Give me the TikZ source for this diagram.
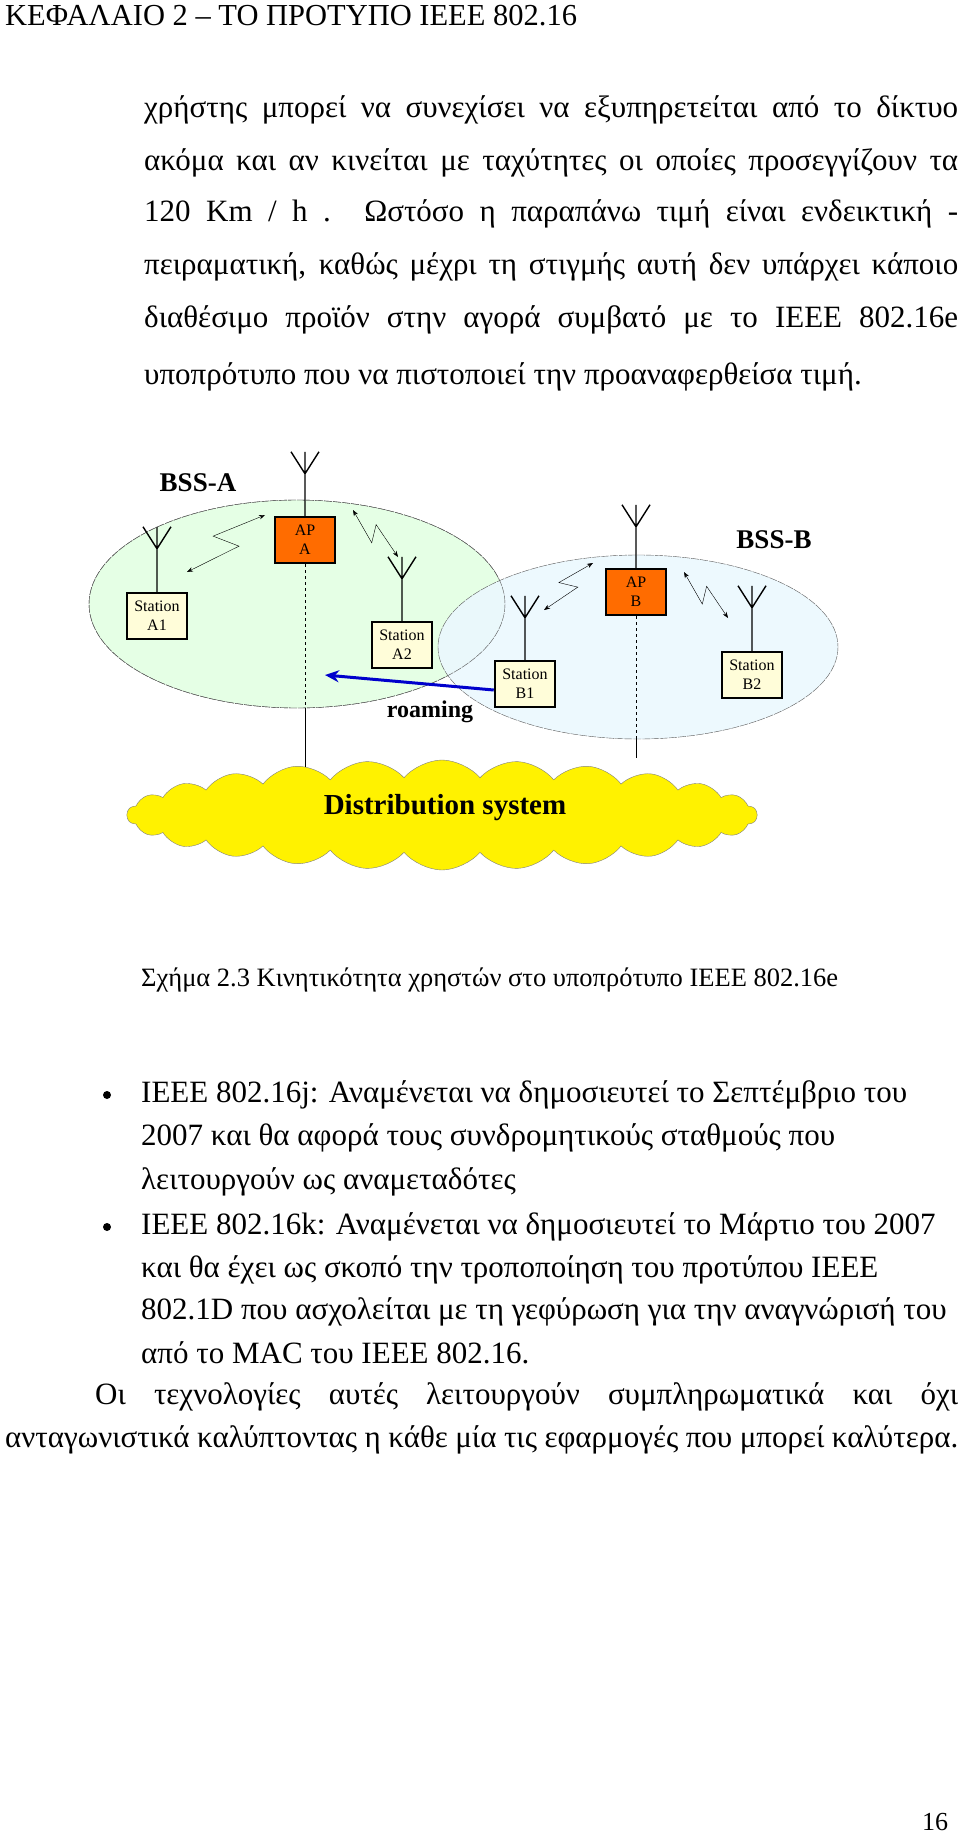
\documentclass[tikz,border=0pt]{standalone}
\usepackage{fontspec}
\setmainfont{Liberation Serif}
\usetikzlibrary{positioning,calc,shapes.symbols,arrows.meta}
\tikzset{
  body/.style={anchor=west, inner sep=0pt, font=\fontsize{31}{34}\selectfont}, % a line of text
  box/.style={draw, line width=2.5pt, minimum width=60pt, minimum height=46pt, inner sep=1pt,
    align=center, font=\fontsize{16}{19}\selectfont},
  station/.style={box, fill=yellow!15},
  ap/.style={box, fill=orange!85!red},
  cell/.style={draw=gray!70!black, dashed, dash pattern=on 8pt off 1pt},
  radio/.style={<->, >={Stealth[length=6pt]}, thin},
}
% a stretched (justified) line
\newcommand{\jl}[2][814pt]{\makebox[#1][s]{#2}}
% antenna on top of a box
\newcommand{\aerial}[2]{%
  \draw[line width=1.4pt] (#1.north) -- ++(0,-#2) coordinate (#1-ant)
    ++(-14,-22) -- (#1-ant) -- ++(14,-22) (#1-ant) -- ++(0,-22);}
% zigzag radio link
\newcommand{\zigzag}[2]{%
  \draw[radio] (#1) -- ($(#1)!0.58!-14:(#2)$) -- ($(#1)!0.42!14:(#2)$) -- (#2);}
\begin{document}
\begin{tikzpicture}[x=1pt,y=-1pt]
\useasboundingbox (0,0) rectangle (960,1846);

\node[body, font=\fontsize{30.5}{32}\selectfont] (head) at (5,16) {ΚΕΦΑΛΑΙΟ 2 – ΤΟ ΠΡΟΤΥΠΟ IEEE 802.16};

\node[body] (l1) at (144,110) {\jl{χρήστης μπορεί να συνεχίσει να εξυπηρετείται από το δίκτυο}};
\node[body] (l2) at (144,163) {\jl{ακόμα και αν κινείται με ταχύτητες οι οποίες προσεγγίζουν τα}};
\node[body] (l3) at (144,214) {\jl{120 Km / h . Ωστόσο η παραπάνω τιμή είναι ενδεικτική -}};
\node[body] (l4) at (144,267) {\jl{πειραματική, καθώς μέχρι τη στιγμής αυτή δεν υπάρχει κάποιο}};
\node[body] (l5) at (144,320) {\jl{διαθέσιμο προϊόν στην αγορά συμβατό με το IEEE 802.16e}};
\node[body] (l6) at (144,377) {υποπρότυπο που να πιστοποιεί την προαναφερθείσα τιμή.};

% the two cells
\draw[cell, fill=green!10] (297,604) ellipse (208 and 104);
\draw[cell, fill=cyan!8, fill opacity=0.9] (638,647) ellipse (200 and 92);
\draw[cell] (297,604) ellipse (208 and 104);

\node[font=\fontsize{27}{29}\selectfont\bfseries] (bssa) at (198,483) {BSS-A};
\node[font=\fontsize{27}{29}\selectfont\bfseries] (bssb) at (774,540) {BSS-B};

\node[ap] (apa) at (305,540) {AP\\A};
\node[ap] (apb) at (636,592) {AP\\B};
\node[station] (a1) at (157,616) {Station\\A1};
\node[station] (a2) at (402,645) {Station\\A2};
\node[station] (b1) at (525,684) {Station\\B1};
\node[station] (b2) at (752,675) {Station\\B2};

\aerial{apa}{42}
\aerial{apb}{41}
\aerial{a1}{43}
\aerial{a2}{42}
\aerial{b1}{42}
\aerial{b2}{43}

% cloud with the wired backbone
\node[cloud, cloud puffs=26, cloud puff arc=100, aspect=5.5, draw=gray, fill=yellow, minimum width=630pt,
  minimum height=110pt] (ds) at (442,815) {};
\node[font=\fontsize{29}{31}\selectfont\bfseries] (dstext) at (445,808) {Distribution system};

\draw[dashed] (apa.south) -- (305,708);
\draw (305,708) -- (305,767);
\draw[dashed] (apb.south) -- (636,738);
\draw (636,738) -- (636,758);

% radio links
\coordinate (za1) at (265,515);
\coordinate (za1e) at (187,572);
\coordinate (za2) at (353,510);
\coordinate (za2e) at (398,557);
\coordinate (zb1) at (593,563);
\coordinate (zb1e) at (544,610);
\coordinate (zb2) at (684,572);
\coordinate (zb2e) at (728,618);
\zigzag{za1}{za1e}
\zigzag{za2}{za2e}
\zigzag{zb1}{zb1e}
\zigzag{zb2}{zb2e}

% roaming
\coordinate (roamend) at (325,675);
\draw[blue!80!black, line width=3pt, -{Stealth[length=14pt,width=12pt]}] (b1.west) ++(0,6) -- (roamend);
\node[font=\fontsize{24}{26}\selectfont\bfseries] (roam) at (430,712) {roaming};

\node[body, font=\fontsize{26.5}{29}\selectfont] (cap) at (141,980) {Σχήμα 2.3 Κινητικότητα χρηστών στο υποπρότυπο IEEE 802.16e};

\node[body] (b1a) at (141,1095) {IEEE 802.16j: Αναμένεται να δημοσιευτεί το Σεπτέμβριο του};
\node[body] (b1b) at (141,1138) {2007 και θα αφορά τους συνδρομητικούς σταθμούς που};
\node[body] (b1c) at (141,1182) {λειτουργούν ως αναμεταδότες};
\node[body] (b2a) at (141,1227) {IEEE 802.16k: Αναμένεται να δημοσιευτεί το Μάρτιο του 2007};
\node[body] (b2b) at (141,1270) {και θα έχει ως σκοπό την τροποποίηση του προτύπου IEEE};
\node[body] (b2c) at (141,1312) {802.1D που ασχολείται με τη γεφύρωση για την αναγνώρισή του};
\node[body] (b2d) at (141,1353) {από το MAC του IEEE 802.16.};
\fill (107,1095) circle (4);
\fill (107,1227) circle (4);

\node[body] (p1) at (95,1397) {\jl[863pt]{Οι τεχνολογίες αυτές λειτουργούν συμπληρωματικά και όχι}};
\node[body] (p2) at (5,1440) {\jl[953pt]{ανταγωνιστικά καλύπτοντας η κάθε μία τις εφαρμογές που μπορεί καλύτερα.}};

\node[body, font=\fontsize{26}{28}\selectfont] (pg) at (922,1822) {16};
\end{tikzpicture}
\end{document}
